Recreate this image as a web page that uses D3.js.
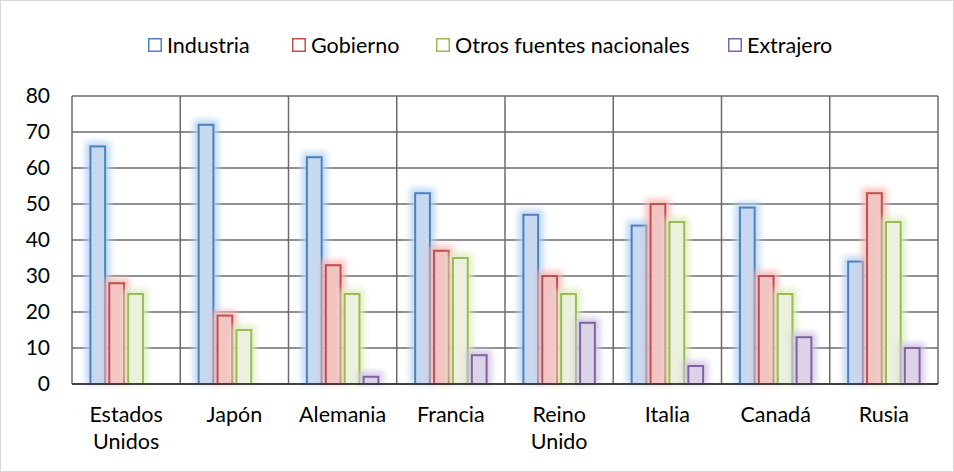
<!DOCTYPE html>
<html>
<head>
<meta charset="utf-8">
<script src="https://cdn.jsdelivr.net/npm/d3@7"></script>
<style>
  body { margin: 0; background: #fff; }
  text { font-family: Lato, sans-serif; fill: #000; }
</style>
</head>
<body>
<svg id="chart" width="954" height="472"></svg>
<script>
// data
var countries = ["Estados Unidos", "Japón", "Alemania", "Francia", "Reino Unido", "Italia", "Canadá", "Rusia"];
var series = ["Industria", "Gobierno", "Otros fuentes nacionales", "Extrajero"];
var industria = [66, 72, 63, 53, 47, 44, 49, 34];
var gobierno  = [28, 19, 33, 37, 30, 50, 30, 53];
var otros     = [25, 15, 25, 35, 25, 45, 25, 45];
var extrajero = [0, 0, 2, 8, 17, 5, 13, 10];
var yTicks = [0, 10, 20, 30, 40, 50, 60, 70, 80];

var strokes = ["#4f81bd", "#c0504d", "#9bbb59", "#8064a2"];
var fills   = ["#c6d9f1", "#f2c4c4", "#ebf1dd", "#dcd3e8"];
var glows   = ["#b3d0f3", "#f5b5b5", "#dcedbd", "#cdc0e2"];

var values = [industria, gobierno, otros, extrajero];

var svg = d3.select("#chart");

// outer border
svg.append("rect")
  .attr("x", 0.5).attr("y", 0.5)
  .attr("width", 953).attr("height", 471)
  .attr("fill", "#fff").attr("stroke", "#d9d9d9");

var margin = {left: 72, right: 16, top: 96, bottom: 88};
var w = 954 - margin.left - margin.right,
    h = 472 - margin.top - margin.bottom;

var x0 = d3.scaleBand().domain(countries).range([0, w]);
var x1 = d3.scaleBand().domain(series)
  .range([x0.bandwidth() * 0.17, x0.bandwidth() * 0.83])
  .paddingInner(0.22);
var y = d3.scaleLinear().domain([0, 80]).range([h, 0]);

var defs = svg.append("defs");
defs.append("filter").attr("id", "glow")
  .attr("x", "-80%").attr("y", "-30%").attr("width", "260%").attr("height", "160%")
  .append("feGaussianBlur").attr("stdDeviation", 3);

var g = svg.append("g").attr("transform", "translate(" + margin.left + "," + margin.top + ")");

// horizontal grid
g.append("g").selectAll("line").data(yTicks).enter().append("line")
  .attr("x1", 0).attr("x2", w)
  .attr("y1", d => y(d)).attr("y2", d => y(d))
  .attr("stroke", "#6b6b6b").attr("stroke-width", 1.5);

// vertical separators
g.append("g").selectAll("line").data(d3.range(countries.length + 1)).enter().append("line")
  .attr("x1", d => d * x0.step()).attr("x2", d => d * x0.step())
  .attr("y1", 0).attr("y2", h)
  .attr("stroke", "#6b6b6b").attr("stroke-width", 1.5);

// y labels
g.append("g").selectAll("text").data(yTicks).enter().append("text")
  .attr("x", -22).attr("y", d => y(d)).attr("dy", "0.35em")
  .attr("text-anchor", "end").style("font-size", "21px")
  .text(d => d);

// bars
var groups = g.append("g").selectAll("g").data(countries).enter().append("g")
  .attr("transform", d => "translate(" + x0(d) + ",0)");

series.forEach(function(s, si) {
  var bw = x1.bandwidth();
  var val = d => values[si][countries.indexOf(d)];
  var has = groups.filter(d => val(d) > 0);
  has.append("rect")
    .attr("x", x1(s) - 5).attr("width", bw + 10)
    .attr("y", d => y(val(d)) - 5)
    .attr("height", d => h - y(val(d)) + 5)
    .attr("fill", glows[si]).attr("filter", "url(#glow)").attr("opacity", 0.85);
  has.append("rect")
    .attr("x", x1(s)).attr("width", bw)
    .attr("y", d => y(val(d)))
    .attr("height", d => h - y(val(d)))
    .attr("fill", fills[si]).attr("stroke", strokes[si]).attr("stroke-width", 2);
});

// bottom axis line
g.append("line").attr("x1", 0).attr("x2", w).attr("y1", h).attr("y2", h)
  .attr("stroke", "#404040").attr("stroke-width", 2);

// x labels
var labelLines = {"Estados Unidos": ["Estados", "Unidos"], "Reino Unido": ["Reino", "Unido"]};
groups.append("text")
  .attr("x", x0.bandwidth() / 2).attr("y", h + 38)
  .attr("text-anchor", "middle").style("font-size", "21.5px")
  .each(function(d) {
    var lines = labelLines[d] || [d];
    var t = d3.select(this);
    lines.forEach(function(l, li) {
      t.append("tspan").attr("x", x0.bandwidth() / 2).attr("dy", li ? 27 : 0).text(l);
    });
  });

// legend
var legendX = [148, 292, 436, 728];
var legend = svg.append("g").selectAll("g").data(series).enter().append("g")
  .attr("transform", (d, i) => "translate(" + legendX[i] + ",45)");
legend.append("rect")
  .attr("x", 0.75).attr("y", -6.25).attr("width", 12.5).attr("height", 12.5)
  .attr("fill", "#fff").attr("stroke", (d, i) => strokes[i]).attr("stroke-width", 1.5);
legend.append("text")
  .attr("x", 19).attr("y", 0).attr("dy", "0.35em")
  .style("font-size", "21.5px").text(d => d);
</script>
</body>
</html>
